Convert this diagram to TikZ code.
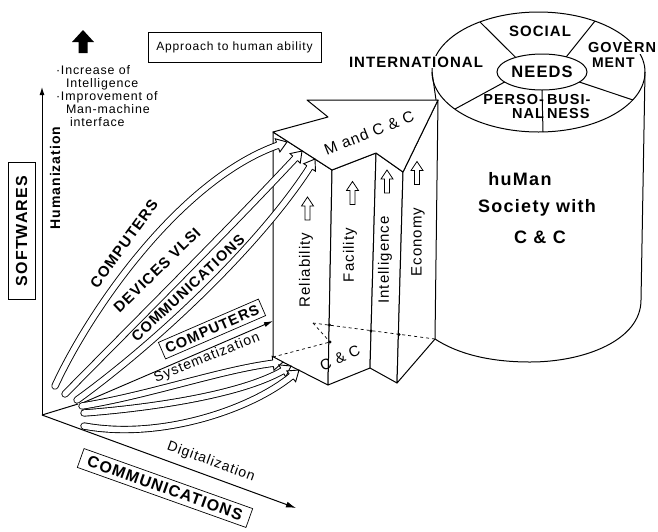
\documentclass[tikz,border=0pt]{standalone}
\usepackage{fontspec}
\setmainfont{Liberation Sans}[LetterSpace=7]
\usetikzlibrary{arrows.meta,decorations.markings,shapes.geometric}

\newcommand\fsz[1]{\fontsize{#1}{#1}\selectfont}

% open head of a hollow band, drawn in the tangent frame at the band's end
\newcommand\bandhead{%
  \fill[white] (-10pt,-7pt) -- (0pt,0pt) -- (-10pt,7pt) -- cycle;
  \draw[line width=0.9pt, line join=miter]
    (-10pt,3.2pt) -- (-10pt,7pt) -- (0pt,0pt) -- (-10pt,-7pt) -- (-10pt,-3.2pt);}

% hollow band arrow: double shaft + open head at the end of the path
\newcommand\hollowband[1]{%
  \draw[bandshaft] #1;
  \path[decorate, decoration={markings, mark=at position 0.9999 with {\bandhead}}] #1;}

\tikzset{
  every node/.style={inner sep=0pt, outer sep=0pt},
  bandshaft/.style={draw=black, line width=0.9pt, double=white,
    double distance=5.5pt, line cap=round, shorten >=9.5pt},
  face/.style={fill=white, draw=black, line width=1pt, line join=round},
  hidden/.style={dashed, line width=0.7pt},
  capslbl/.style={font=\fsz{15}\bfseries},
  collbl/.style={rotate=90, font=\fsz{15}},
  framed/.style={draw, line width=0.7pt},
  upmark/.pic={\filldraw[fill=white, line width=0.8pt]
    (0,-11.5) -- (6,-2.5) -- (2.5,-2.5) -- (2.5,11.5) -- (-2.5,11.5)
    -- (-2.5,-2.5) -- (-6,-2.5) -- cycle;}
}

\begin{document}
\begin{tikzpicture}[x=1pt, y=-1pt, line width=1pt]
\fill[white] (0,0) rectangle (658,531);
\useasboundingbox (0,0) rectangle (658,531);

% ---------- key points ----------
% big arrow "M and C & C" (top face) and its columns
\coordinate (pA)   at (273,132);
\coordinate (pNi)  at (328,117);
\coordinate (pNo)  at (307,100);
\coordinate (pTip) at (438,100);
\coordinate (pC2)  at (332,170);
\coordinate (pC3)  at (376,153);
\coordinate (pC4)  at (403,172);
\coordinate (bA)   at (273,357);
\coordinate (bC2)  at (328,385);
\coordinate (bC3)  at (370,368);
\coordinate (bC4)  at (397,383);
\coordinate (bTip) at (435,339);
\coordinate (hB1)  at (330,342);
\coordinate (hB2)  at (313,323);
% cylinder
\coordinate (cyl)  at (538.5,72);
\coordinate (cylL) at (432,72);
\coordinate (cylLb) at (436,100);
\coordinate (cylR) at (645,72);
\coordinate (cylRb) at (641,300);
\coordinate (cylB) at (530,362);
% axes
\coordinate (O)    at (42,415);
\coordinate (yEnd) at (42,87);
\coordinate (xEnd) at (296,508);
\coordinate (fanBase) at (78,404);

% ---------- cylinder: human society ----------
\draw (cyl) ellipse [x radius=106.5pt, y radius=60pt];
\draw (cylL) -- (cylLb);
\draw (cylR) -- (cylRb) .. controls (641,340) and (585,362) .. (cylB)
      .. controls (490,362) and (458,354) .. (bTip);

\node[ellipse, draw, minimum width=90pt, minimum height=36pt,
      font=\fsz{16.5}\bfseries] (needs) at (542,72) {NEEDS};
\coordinate (sp1) at (480,22);
\coordinate (sp2) at (595,21);
\coordinate (sp3) at (633,100);
\coordinate (sp4) at (543,132);
\coordinate (sp5) at (455,109);
\draw (needs.151) -- (sp1);
\draw (needs.32)  -- (sp2);
\draw (needs.345) -- (sp3);
\draw (needs.270) -- (sp4);
\draw (needs.195) -- (sp5);

\node[capslbl, fill=white, inner sep=1pt] (intl) at (416,62) {INTERNATIONAL};
\node[capslbl] (soc) at (540,31) {SOCIAL};
\node[capslbl, anchor=east, fill=white, inner sep=1pt, font=\fsz{14.5}\bfseries] (gov) at (657,48) {GOVERN};
\node[anchor=west, font=\fsz{14}\bfseries] (ment) at (592,63) {MENT};
\node[anchor=north east, align=right, font=\fontsize{14.5}{14}\selectfont\bfseries] (pers) at (544,94) {PERSO-\\NAL};
\node[anchor=north west, align=left, font=\fontsize{14.5}{14}\selectfont\bfseries] (busi) at (547,94) {BUSI-\\NESS};

\node[font=\fsz{18}\bfseries] (hm1) at (520,179) {huMan};
\node[font=\fsz{18}\bfseries] (hm2) at (537,208) {Society with};
\node[font=\fsz{18}\bfseries] (hm3) at (540,237) {C \& C};

% ---------- prism of the big arrow ----------
\path[face] (pA) -- (pC2) -- (bC2) -- (bA) -- cycle;
\path[face] (pC2) -- (pC3) -- (bC3) -- (bC2) -- cycle;
\path[face] (pC3) -- (pC4) -- (bC4) -- (bC3) -- cycle;
\path[face] (pC4) -- (pTip) -- (bTip) -- (bC4) -- cycle;
\path[face] (pA) -- (pNi) -- (pNo) -- (pTip) -- (pC4) -- (pC3) -- (pC2) -- cycle;

\draw[hidden] (bA) -- (hB1);
\draw[hidden] (hB2) -- (hB1);
\draw[hidden] (hB2) -- (bTip);
\foreach \p in {(330,342),(329.5,325),(371,331),(399,334.5)}
  \fill \p circle (1.6pt);

\node[rotate=21.7, font=\fsz{15.5}] (mcc) at (369,133) {M and C \& C};
\node[rotate=24, font=\fsz{15}] (ccb) at (340,358) {C \& C};

\node[collbl] (rel)   at (306,270) {Reliability};
\node[collbl] (fac)   at (350,255) {Facility};
\node[collbl] (intel) at (385,260) {Intelligence};
\node[collbl] (eco)   at (418,242) {Economy};
\pic at (307.5,208.5) {upmark};
\pic at (352.5,193) {upmark};
\pic at (387,181.5) {upmark};
\pic at (417,173) {upmark};

% ---------- axes ----------
\draw[-{Latex[length=8pt,width=5pt]}] (O) -- (yEnd);
\draw[-{Latex[length=10pt,width=6pt]}] (O) -- (xEnd);
\draw (O) -- (fanBase);

\node[rotate=90, font=\fsz{14}\bfseries] (hum) at (55,178) {Humanization};
\node[framed, rotate=90, minimum width=137pt, minimum height=27pt,
      font=\fsz{16}\bfseries] (soft) at (21.5,231) {SOFTWARES};
\node[rotate=-20, font=\fsz{14}] (digi) at (211,462) {Digitalization};
\node[framed, rotate=-19.6, minimum width=179pt, minimum height=20pt,
      font=\fsz{16}\bfseries] (comm) at (165,488) {COMMUNICATIONS};

% black arrow and aims
\fill (83,30) -- (94,42) -- (87.5,42) -- (87.5,53) -- (78.5,53) -- (78.5,42) -- (72,42) -- cycle;
\node[anchor=north west, align=left, font=\fontsize{12.4}{12.8}\selectfont] (aims) at (56,66)
  {·Increase of\\\hspace*{10pt}Intelligence\\·Improvement of\\\hspace*{10pt}Man-machine\\\hspace*{14pt}interface};
\node[framed, minimum width=173pt, minimum height=30pt, font=\fsz{12}] (appr) at (234.5,47) {Approach to human ability};

% ---------- fan of developments ----------
\coordinate (tA)  at (55,386);  \coordinate (hA)  at (287,142);
\coordinate (tB)  at (65,394);  \coordinate (hB)  at (302,151);
\coordinate (tC)  at (77,400);  \coordinate (hC)  at (315,159);
\coordinate (tT)  at (80,404);  \coordinate (hT)  at (273,321);
\coordinate (tL1) at (82,406);  \coordinate (hL1) at (283,362);
\coordinate (tL2) at (84,413);  \coordinate (hL2) at (291,366);
\coordinate (tL3) at (84,426);  \coordinate (hL3) at (299,370);

\hollowband{(tA) .. controls (90,310) and (180,180) .. (hA)}
\hollowband{(tB) .. controls (140,318) and (230,228) .. (hB)}
\hollowband{(tC) .. controls (160,340) and (262,242) .. (hC)}
\draw[line width=0.9pt, -{Latex[length=9pt,width=5pt]}] (tT) -- (hT);
\hollowband{(tL1) .. controls (150,395) and (220,370) .. (hL1)}
\hollowband{(tL2) .. controls (150,408) and (240,395) .. (hL2)}
\hollowband{(tL3) .. controls (160,440) and (250,410) .. (hL3)}

\node[capslbl, rotate=54] (lcomp) at (124,244) {COMPUTERS};
\node[capslbl, rotate=44] (ldev)  at (157,270) {DEVICES VLSI};
\node[capslbl, rotate=43, font=\fsz{14.5}\bfseries] (lcomm) at (188,288) {COMMUNICATIONS};
\node[framed, fill=white, rotate=23.4, minimum width=109pt, minimum height=18pt,
      font=\fsz{14.5}\bfseries] (bcomp) at (212,329) {COMPUTERS};
\node[rotate=22, font=\fsz{14}] (sys) at (207,358) {Systematization};
\end{tikzpicture}
\end{document}
